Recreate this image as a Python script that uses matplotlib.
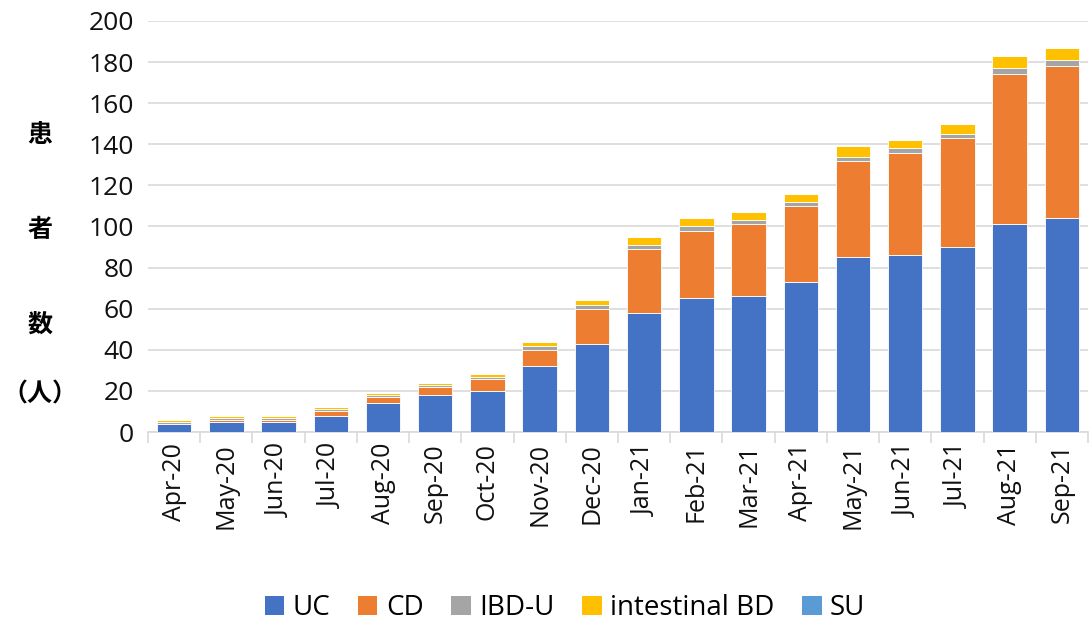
import numpy as np
import matplotlib
matplotlib.use('Agg')
import matplotlib.pyplot as plt
from matplotlib.patches import Patch

plt.rcParams['font.family'] = ['Open Sans', 'Noto Sans CJK JP', 'DejaVu Sans']

months = ['Apr-20', 'May-20', 'Jun-20', 'Jul-20', 'Aug-20', 'Sep-20', 'Oct-20', 'Nov-20', 'Dec-20',
          'Jan-21', 'Feb-21', 'Mar-21', 'Apr-21', 'May-21', 'Jun-21', 'Jul-21', 'Aug-21', 'Sep-21']
uc = [4, 5, 5, 8, 14, 18, 20, 32, 43, 58, 65, 66, 73, 85, 86, 90, 101, 104]
cd = [0, 1, 1, 2, 3, 4, 6, 8, 17, 31, 33, 35, 37, 47, 50, 53, 73, 74]
ibdu = [1, 1, 1, 1, 1, 1, 1, 2, 2, 2, 2, 2, 2, 2, 2, 2, 3, 3]
intbd = [1, 1, 1, 1, 1, 1, 1, 2, 2, 4, 4, 4, 4, 5, 4, 5, 6, 6]
su = [0] * 18

series = [('UC', uc, '#4472C4'), ('CD', cd, '#ED7D31'), ('IBD-U', ibdu, '#A5A5A5'),
          ('intestinal BD', intbd, '#FFC000'), ('SU', su, '#5B9BD5')]

fig = plt.figure(figsize=(10.9, 6.31), dpi=100)
ax = fig.add_axes([148 / 1090, 1 - 432 / 631, 940 / 1090, 411 / 631])

x = np.arange(len(months))
bottom = np.zeros(len(months))
for name, vals, color in series:
    ax.bar(x, vals, 0.66, bottom=bottom, color=color, edgecolor='white', linewidth=0.6, zorder=3)
    bottom += np.array(vals)

ax.set_xlim(-0.5, len(months) - 0.5)
ax.set_ylim(0, 200)
ax.set_yticks(range(0, 201, 20))
ax.yaxis.grid(True, color='#D9D9D9', linewidth=1.2, zorder=0)
ax.set_xticks(x)
ax.set_xticklabels(months, rotation=90, fontsize=18, color='#111111')
ax.tick_params(axis='x', length=0, pad=8)
ax.tick_params(axis='y', length=0, labelsize=19, labelcolor='#111111', pad=10)
ax.set_xticks(np.arange(-0.5, len(months), 1), minor=True)
ax.tick_params(axis='x', which='minor', length=8, color='#D9D9D9', width=1.2)
for s in ['top', 'right', 'left']:
    ax.spines[s].set_visible(False)
ax.spines['bottom'].set_color('#D9D9D9')
ax.spines['bottom'].set_linewidth(1.2)

for ch, yp in zip(['患', '者', '数', '（人）'], [135, 230, 325, 395]):
    fig.text(40 / 1090, 1 - yp / 631, ch, ha='center', va='center', fontsize=18,
             family=['Noto Sans CJK JP'], fontweight='bold')

handles = [Patch(facecolor=c, label=n) for n, v, c in series]
fig.legend(handles=handles, loc='center', bbox_to_anchor=(565 / 1090, 1 - 608 / 631), ncol=5,
           frameon=False, fontsize=20, handlelength=0.7, handleheight=0.7, handletextpad=0.3,
           columnspacing=1.0)

fig.savefig('out.png', dpi=100)
